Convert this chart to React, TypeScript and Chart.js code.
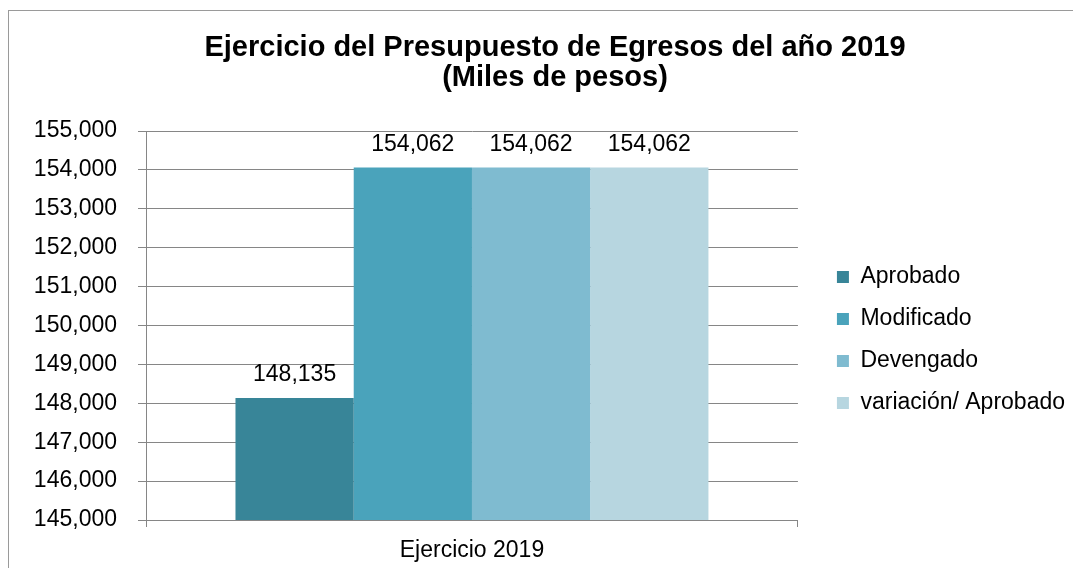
import React, { useEffect, useRef } from "react";
import { Chart, registerables } from "chart.js";

Chart.register(...registerables);

const categories = ["Ejercicio 2019"];
const seriesNames = ["Aprobado", "Modificado", "Devengado", "variación/ Aprobado"];
const aprobado = [148135];
const modificado = [154062];
const devengado = [154062];
const variacion = [154062];
const seriesColors = ["#388598", "#4AA3BB", "#7FBBD0", "#B7D6E0"];
const titleLines = ["Ejercicio del Presupuesto de Egresos del año 2019", "(Miles de pesos)"];
const yMin = 145000;
const yMax = 155000;
const yStep = 1000;

const FONT = '"Liberation Sans", Arial, Helvetica, sans-serif';
const fmt = (v: number) => v.toLocaleString("en-US");

const valueLabels = {
  id: "valueLabels",
  afterDatasetsDraw(chart: any) {
    const ctx = chart.ctx;
    ctx.save();
    ctx.font = `23px ${FONT}`;
    ctx.fillStyle = "#000";
    ctx.textAlign = "center";
    ctx.textBaseline = "middle";
    chart.data.datasets.forEach((ds: any, i: number) => {
      const meta = chart.getDatasetMeta(i);
      meta.data.forEach((el: any, j: number) => {
        ctx.fillText(fmt(ds.data[j]), el.x, el.y - 23);
      });
    });
    ctx.restore();
  },
};

export default function App() {
  const ref = useRef<HTMLCanvasElement>(null);
  useEffect(() => {
    document.body.style.overflow = "hidden";
    const values = [aprobado, modificado, devengado, variacion];
    const chart = new Chart(ref.current!, {
      type: "bar",
      data: {
        labels: categories,
        datasets: seriesNames.map((name, i) => ({
          label: name,
          data: values[i],
          backgroundColor: seriesColors[i],
          borderWidth: 0,
          categoryPercentage: 0.7255,
          barPercentage: 1,
        })),
      },
      options: {
        responsive: false,
        animation: false,
        devicePixelRatio: 1,
        layout: { padding: { left: 26, right: 6, top: 0, bottom: 0 } },
        plugins: {
          title: {
            display: true,
            text: titleLines,
            color: "#000",
            font: { family: FONT, size: 29, weight: "bold", lineHeight: 30 / 29 },
            padding: { top: 22, bottom: 38 },
          },
          legend: {
            display: true,
            position: "right",
            fullSize: false,
            maxWidth: 400,
            title: { display: true, text: "", font: { size: 10 }, padding: { top: 17, bottom: 0 } },
            labels: {
              boxWidth: 12,
              boxHeight: 12,
              padding: 19,
              color: "#000",
              font: { family: FONT, size: 23 },
            },
          },
          tooltip: { enabled: false },
        },
        scales: {
          x: {
            grid: {
              display: true,
              drawOnChartArea: false,
              drawTicks: true,
              tickLength: 7,
              color: "#868686",
              offset: true,
            },
            border: { display: true, color: "#868686", width: 1 },
            ticks: { color: "#000", font: { family: FONT, size: 23 }, padding: 10 },
            afterFit: (s: any) => {
              s.height = 48;
            },
          },
          y: {
            min: yMin,
            max: yMax,
            ticks: {
              stepSize: yStep,
              color: "#000",
              font: { family: FONT, size: 23 },
              padding: 21,
              callback: (v: any) => fmt(Number(v)),
            },
            grid: { color: "#868686", lineWidth: 1, tickLength: 8 },
            border: { display: true, color: "#868686", width: 1 },
            afterFit: (s: any) => {
              s.width = 111;
            },
          },
          gap: {
            type: "linear",
            position: "right",
            display: true,
            grid: { display: false, drawTicks: false },
            ticks: { display: false },
            border: { display: false },
            afterFit: (s: any) => {
              s.width = 20;
            },
          },
        },
      },
      plugins: [valueLabels],
    } as any);
    return () => chart.destroy();
  }, []);

  return (
    <div
      style={{
        marginTop: 2,
        width: 1072,
        height: 557,
        borderTop: "1px solid #9a9a9a",
        borderLeft: "1px solid #9a9a9a",
        overflow: "hidden",
        background: "#fff",
      }}
    >
      <canvas ref={ref} width={1072} height={557} style={{ display: "block" }} />
    </div>
  );
}
